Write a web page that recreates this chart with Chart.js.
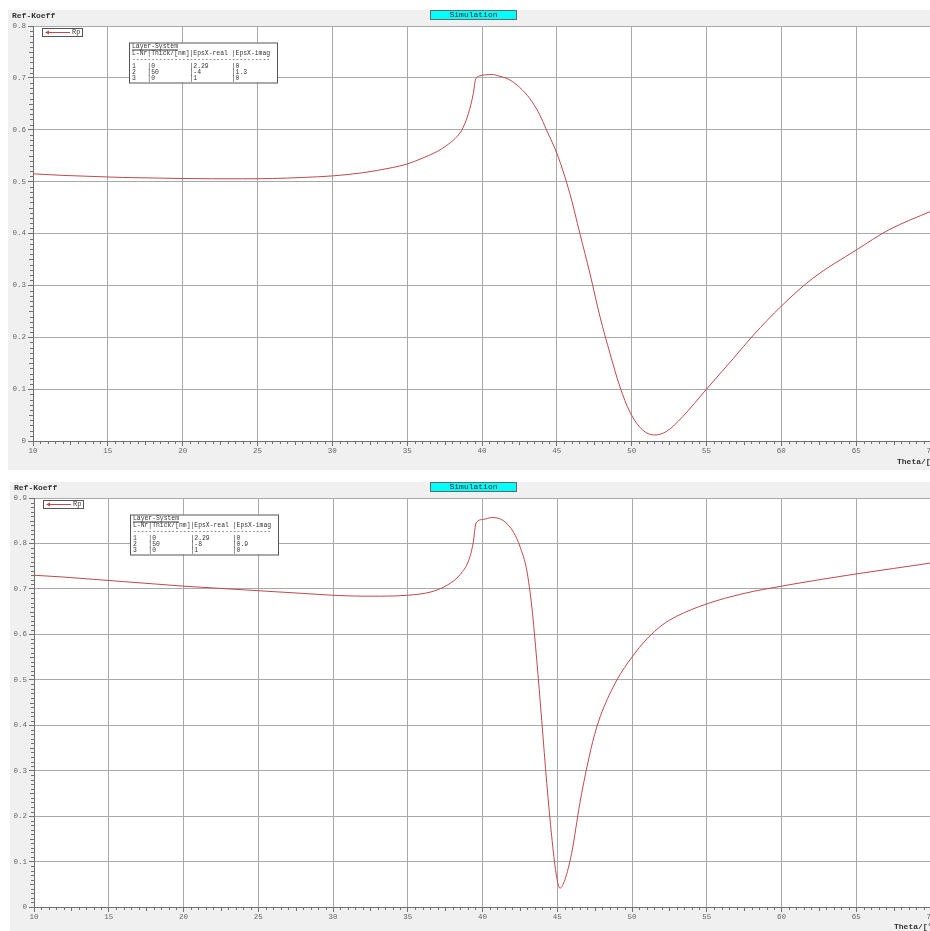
<!DOCTYPE html>
<html>
<head>
<meta charset="utf-8">
<script src="https://cdn.jsdelivr.net/npm/chart.js@4"></script>
<style>
    html, body { margin: 0; padding: 0; background: #fff; overflow: hidden; }
    body { width: 930px; height: 931px; position: relative; }
    .panel { position: absolute; }
</style>
</head>
<body>
<div class="panel" style="left:8px;top:10px"><canvas id="chartTop" width="923" height="460"></canvas></div>
<div class="panel" style="left:10px;top:482px"><canvas id="chartBottom" width="921" height="449"></canvas></div>
<script>
// angle (deg) and reflection coefficient
const thetaTop = [10, 12, 14, 16, 18, 20, 22, 24, 26, 28, 30, 32, 34, 35, 36, 37, 37.6, 38.2, 38.64, 39.09, 39.42, 39.57,
    39.86, 40.3, 40.64, 41.2, 41.86, 42.5, 43.2, 43.8, 44.32, 45.05, 45.87, 46.54, 47.21, 47.88, 48.55, 49.21, 49.88,
    50.74, 51.52, 52.3, 53.41, 55, 56.79, 58.13, 60, 62.07, 65, 67.18, 70];
const rpTop = [0.515, 0.512, 0.510, 0.508, 0.507, 0.506, 0.5055, 0.5055, 0.506, 0.508, 0.511, 0.517, 0.527, 0.534, 0.545,
    0.558, 0.569, 0.583, 0.599, 0.631, 0.670, 0.697, 0.704, 0.706, 0.7066, 0.703, 0.696, 0.682, 0.660, 0.632, 0.599,
    0.551, 0.477, 0.400, 0.323, 0.240, 0.169, 0.105, 0.056, 0.021, 0.0116, 0.018, 0.047, 0.100, 0.159, 0.204, 0.260,
    0.313, 0.368, 0.407, 0.443];

const thetaBottom = [10, 12, 14, 16, 18, 20, 22, 24, 26, 28, 30, 32, 33.17, 35, 36.52, 37.63, 38.52, 39.08, 39.37, 39.57,
    40.07, 40.63, 41.4, 42.07, 42.52, 42.96, 43.3, 43.63, 43.96, 44.3, 44.63, 44.92, 45.18, 45.51, 45.96, 46.51, 47,
    47.5, 48, 49, 50, 51, 52, 53, 55, 57.5, 60, 62.5, 65, 67.5, 70];
const rpBottom = [0.730, 0.726, 0.721, 0.716, 0.711, 0.706, 0.702, 0.698, 0.694, 0.690, 0.686, 0.684, 0.684, 0.686,
    0.693, 0.708, 0.732, 0.763, 0.800, 0.845, 0.853, 0.857, 0.850, 0.825, 0.792, 0.741, 0.660, 0.543, 0.411, 0.272,
    0.155, 0.0745, 0.0415, 0.060, 0.118, 0.228, 0.31, 0.38, 0.43, 0.50, 0.55, 0.59, 0.62, 0.64, 0.667, 0.69, 0.706,
    0.72, 0.733, 0.745, 0.757];

const xTicks = [10, 15, 20, 25, 30, 35, 40, 45, 50, 55, 60, 65, 70];
const yTicksTop = [0, 0.1, 0.2, 0.3, 0.4, 0.5, 0.6, 0.7, 0.8];
const yTicksBottom = [0, 0.1, 0.2, 0.3, 0.4, 0.5, 0.6, 0.7, 0.8, 0.9];

const tableHeader = ['Layer-System', 'L-Nr|Thick/[nm]|EpsX-real |EpsX-imag', '------------------------------------'];
const layersTop = [['1', '0', '2.29', '0'], ['2', '50', '-4', '1.3'], ['3', '0', '1', '0']];
const layersBottom = [['1', '0', '2.29', '0'], ['2', '50', '-8', '0.9'], ['3', '0', '1', '0']];

const MONO = '"Liberation Mono", "DejaVu Sans Mono", monospace';
const LINE_COLOR = '#c0494b';

function fila(l) {
    return l[0].padEnd(4) + '|' + l[1].padEnd(10) + '|' + l[2].padEnd(10) + '|' + l[3];
}

// fondo gris, area blanca, ticks menores y textos
const decoPlugin = {
    id: 'deco',
    beforeDraw(chart) {
        const ctx = chart.ctx, a = chart.chartArea;
        ctx.save();
        ctx.fillStyle = '#f0f0f0';
        ctx.fillRect(0, 0, chart.width, chart.height);
        ctx.fillStyle = '#ffffff';
        ctx.fillRect(a.left, a.top, a.right - a.left, a.bottom - a.top);
        ctx.restore();
    },
    afterDraw(chart, args, opts) {
        const ctx = chart.ctx, a = chart.chartArea;
        const xs = chart.scales.x, ys = chart.scales.y;
        ctx.save();
        ctx.strokeStyle = '#707070';
        ctx.lineWidth = 1;
        ctx.beginPath();
        for (let v = 10; v <= 70.001; v += 0.5) {
            if (Math.abs(v % 5) < 0.001) continue;
            const px = Math.round(xs.getPixelForValue(v)) + 0.5;
            const len = Math.abs(v % 2.5) < 0.001 ? 4 : 3;
            ctx.moveTo(px, a.bottom);
            ctx.lineTo(px, a.bottom + len);
        }
        for (let i = 1; i < Math.round(ys.max * 100); i++) {
            if (i % 10 === 0) continue;
            const py = Math.round(ys.getPixelForValue(i / 100)) + 0.5;
            const len = i % 5 === 0 ? 4 : 3;
            ctx.moveTo(a.left - len, py);
            ctx.lineTo(a.left, py);
        }
        ctx.stroke();

        // titulos
        ctx.fillStyle = '#333';
        ctx.font = 'bold 8px ' + MONO;
        ctx.textBaseline = 'middle';
        ctx.textAlign = 'left';
        ctx.fillText('Ref-Koeff', 4, 6);
        ctx.fillText('Theta/[°]', opts.thetaX, opts.thetaY);

        // caja Simulation
        const sx = opts.simX;
        ctx.fillStyle = '#00ffff';
        ctx.fillRect(sx, 0, 87, 9);
        ctx.strokeStyle = '#666';
        ctx.strokeRect(sx + 0.5, 0.5, 86, 9);
        ctx.fillStyle = '#222';
        ctx.font = '8px ' + MONO;
        ctx.textAlign = 'center';
        ctx.fillText('Simulation', sx + 43.5, 5);

        // leyenda Rp
        const lx = a.left + 9, ly = a.top + 2;
        ctx.fillStyle = '#fff';
        ctx.fillRect(lx, ly, 40, 8);
        ctx.strokeStyle = '#555';
        ctx.strokeRect(lx + 0.5, ly + 0.5, 40, 8);
        ctx.strokeStyle = LINE_COLOR;
        ctx.fillStyle = LINE_COLOR;
        ctx.beginPath();
        ctx.moveTo(lx + 4, ly + 4.5);
        ctx.lineTo(lx + 28, ly + 4.5);
        ctx.stroke();
        ctx.beginPath();
        ctx.moveTo(lx + 3, ly + 4.5);
        ctx.lineTo(lx + 7, ly + 2.5);
        ctx.lineTo(lx + 7, ly + 6.5);
        ctx.fill();
        ctx.fillStyle = '#333';
        ctx.font = '7px ' + MONO;
        ctx.textAlign = 'left';
        ctx.fillText('Rp', lx + 30, ly + 4.5);

        // tabla de capas
        const bx = a.left + 96, by = a.top + 16.5;
        ctx.fillStyle = '#fff';
        ctx.fillRect(bx, by, 148, 40);
        ctx.strokeStyle = '#555';
        ctx.strokeRect(bx + 0.5, by + 0.5, 148, 40);
        ctx.fillStyle = '#333';
        ctx.font = '6.4px ' + MONO;
        const lines = tableHeader.concat(opts.layers.map(fila));
        const ys2 = [4, 10.5, 17, 23.5, 29.5, 35.5];
        lines.forEach((t, i) => ctx.fillText(t, bx + 3, by + ys2[i]));
        const w = ctx.measureText('Layer-System').width;
        ctx.strokeStyle = '#333';
        ctx.beginPath();
        ctx.moveTo(bx + 3, by + 7.5);
        ctx.lineTo(bx + 3 + w, by + 7.5);
        ctx.stroke();
        ctx.restore();
    }
};

function sinPadding(s) {
    s.paddingLeft = 0;
    s.paddingRight = 0;
    s.paddingTop = 0;
    s.paddingBottom = 0;
}

function crearGrafico(id, xs, ys, yTicks, yMax, layers, layout) {
    const ctx = document.getElementById(id).getContext('2d');
    return new Chart(ctx, {
        type: 'line',
        data: {
            datasets: [{
                label: 'Rp',
                data: xs.map((x, i) => ({ x: x, y: ys[i] })),
                borderColor: LINE_COLOR,
                borderWidth: 1,
                pointRadius: 0,
                cubicInterpolationMode: 'monotone',
                fill: false
            }]
        },
        options: {
            responsive: false,
            animation: false,
            devicePixelRatio: 1,
            layout: { padding: { left: 0, right: 0, top: layout.top, bottom: 0 } },
            plugins: {
                legend: { display: false },
                tooltip: { enabled: false },
                deco: { layers: layers, simX: layout.simX, thetaX: layout.thetaX, thetaY: layout.thetaY }
            },
            scales: {
                x: {
                    type: 'linear',
                    min: 10,
                    max: 70,
                    afterBuildTicks: s => { s.ticks = xTicks.map(v => ({ value: v })); },
                    afterFit: s => { s.height = layout.xHeight; sinPadding(s); },
                    grid: { color: '#a9a9a9', tickColor: '#707070', tickLength: 5 },
                    border: { color: '#707070' },
                    ticks: {
                        color: '#666',
                        padding: 1,
                        maxRotation: 0,
                        font: { family: MONO, size: 7.5 },
                        callback: v => String(v)
                    }
                },
                y: {
                    type: 'linear',
                    min: 0,
                    max: yMax,
                    afterBuildTicks: s => { s.ticks = yTicks.map(v => ({ value: v })); },
                    afterFit: s => { s.width = layout.yWidth; sinPadding(s); },
                    grid: { color: '#a9a9a9', tickColor: '#707070', tickLength: 5 },
                    border: { color: '#707070' },
                    ticks: {
                        color: '#666',
                        padding: 2,
                        font: { family: MONO, size: 7.5 },
                        callback: v => String(Math.round(v * 10) / 10)
                    }
                }
            }
        },
        plugins: [decoPlugin]
    });
}

crearGrafico('chartTop', thetaTop, rpTop, yTicksTop, 0.8, layersTop,
    { top: 16, xHeight: 29, yWidth: 25, simX: 422, thetaX: 889, thetaY: 452 });
crearGrafico('chartBottom', thetaBottom, rpBottom, yTicksBottom, 0.9, layersBottom,
    { top: 16, xHeight: 24, yWidth: 24, simX: 420, thetaX: 884, thetaY: 445 });
</script>
</body>
</html>
